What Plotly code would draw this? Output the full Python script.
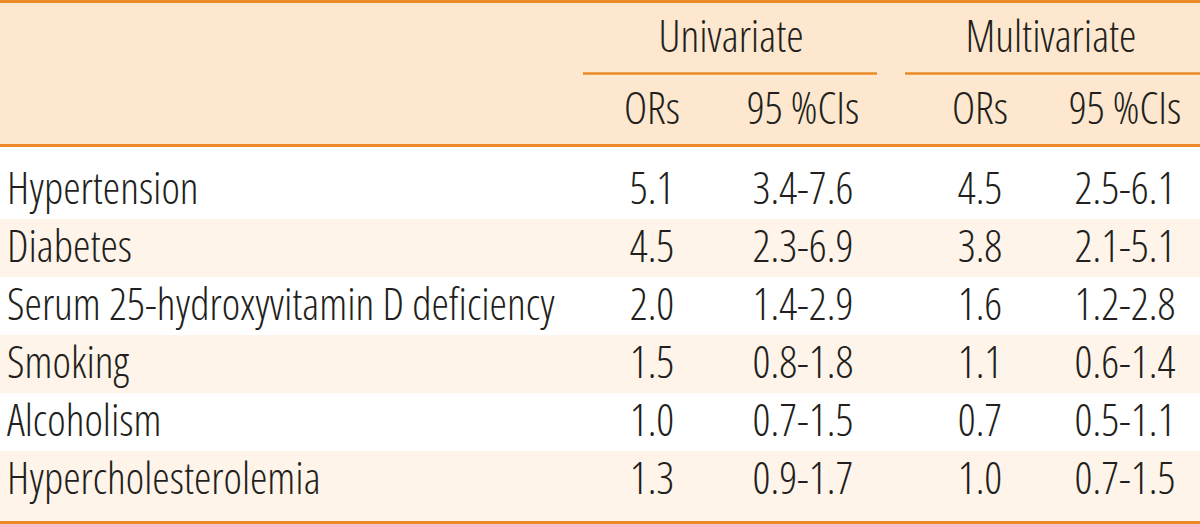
import plotly.graph_objects as go

factors = ["Hypertension", "Diabetes", "Serum 25-hydroxyvitamin D deficiency",
           "Smoking", "Alcoholism", "Hypercholesterolemia"]
uni_or = [5.1, 4.5, 2.0, 1.5, 1.0, 1.3]
uni_ci = ["3.4-7.6", "2.3-6.9", "1.4-2.9", "0.8-1.8", "0.7-1.5", "0.9-1.7"]
multi_or = [4.5, 3.8, 1.6, 1.1, 0.7, 1.0]
multi_ci = ["2.5-6.1", "2.1-5.1", "1.2-2.8", "0.6-1.4", "0.5-1.1", "0.7-1.5"]
groups = ["Univariate", "Multivariate"]
subheads = ["ORs", "95 %CIs", "ORs", "95 %CIs"]

W, H = 1200, 524
FONT = "Open Sans"
TXT = "#231F20"
FS = 44
WT = 300
HEAD_BG = "#FDE7CE"
STRIPE = "#FEF4E9"
ORANGE = "#EC8A28"

row_top = 147
first_h = 72
row_h = 58
row_bounds = [row_top, row_top + first_h]
for i in range(1, len(factors)):
    row_bounds.append(row_bounds[-1] + row_h)
row_bounds[-1] = 521
row_centers = [193 + row_h * i for i in range(len(factors))]

col_x = [652, 803, 980, 1125]

fig = go.Figure()

shapes = []
shapes.append(dict(type="rect", x0=0, x1=W, y0=0, y1=146, fillcolor=HEAD_BG, line_width=0, layer="below"))
for i in range(len(factors)):
    if i % 2 == 1:
        shapes.append(dict(type="rect", x0=0, x1=W, y0=row_bounds[i], y1=row_bounds[i + 1],
                           fillcolor=STRIPE, line_width=0, layer="below"))
shapes.append(dict(type="line", x0=0, x1=W, y0=1.5, y1=1.5, line=dict(color=ORANGE, width=3)))
shapes.append(dict(type="line", x0=0, x1=W, y0=145.5, y1=145.5, line=dict(color=ORANGE, width=3)))
shapes.append(dict(type="line", x0=0, x1=W, y0=522.5, y1=522.5, line=dict(color=ORANGE, width=3)))
shapes.append(dict(type="line", x0=583, x1=877, y0=73.5, y1=73.5, line=dict(color=ORANGE, width=2.5)))
shapes.append(dict(type="line", x0=905, x1=W, y0=73.5, y1=73.5, line=dict(color=ORANGE, width=2.5)))

tf = dict(family=FONT, size=FS, color=TXT, weight=WT)
fig.add_trace(go.Scatter(x=[7] * len(factors), y=row_centers, text=factors, mode="text",
                         textposition="middle right", textfont=tf, hoverinfo="skip"))
cols = [[f"{v:.1f}" for v in uni_or], uni_ci, [f"{v:.1f}" for v in multi_or], multi_ci]
for cx, vals in zip(col_x, cols):
    fig.add_trace(go.Scatter(x=[cx] * len(vals), y=row_centers, text=vals, mode="text",
                             textposition="middle center", textfont=tf, hoverinfo="skip"))
fig.add_trace(go.Scatter(x=[731, 1051], y=[41, 41], text=groups, mode="text",
                         textposition="middle center", textfont=tf, hoverinfo="skip"))
fig.add_trace(go.Scatter(x=col_x, y=[113] * 4, text=subheads, mode="text",
                         textposition="middle center", textfont=tf, hoverinfo="skip"))

fig.update_layout(
    width=W, height=H, margin=dict(l=0, r=0, t=0, b=0),
    paper_bgcolor="white", plot_bgcolor="white", showlegend=False,
    shapes=shapes,
    xaxis=dict(range=[0, W], visible=False, fixedrange=True),
    yaxis=dict(range=[H, 0], visible=False, fixedrange=True),
)
js = """document.body.style.margin='0';
var st=document.createElement('style');
st.textContent='text{font-stretch:75% !important;}';
document.head.appendChild(st);"""
fig.write_html("out.html", post_script=js, config={"displayModeBar": False})
